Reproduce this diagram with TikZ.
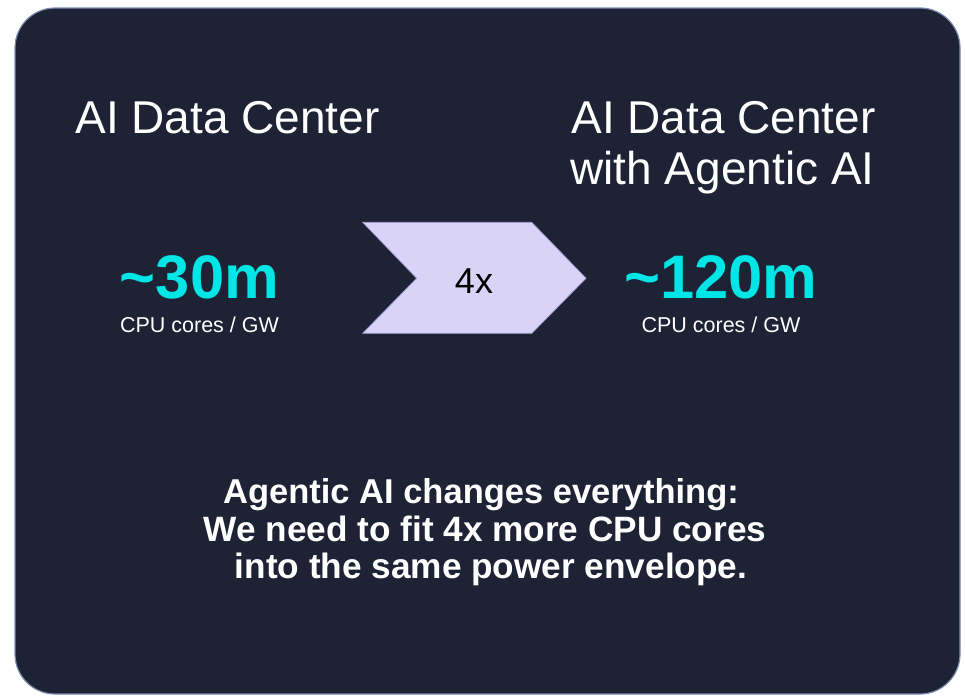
\documentclass[tikz,border=0pt]{standalone}
\usepackage{fontspec}
\setmainfont{Liberation Sans}
\definecolor{panelbg}{HTML}{1E2235}
\definecolor{paneledge}{HTML}{7D8CAD}
\definecolor{chevfill}{HTML}{DAD3F8}
\definecolor{chevedge}{HTML}{A49CD0}
\definecolor{figcyan}{HTML}{00E5E5}
\tikzset{
  title/.style={inner sep=0pt, anchor=base, text=white, font=\fontsize{46}{51}\selectfont},
  bignum/.style={inner sep=0pt, anchor=base, text=figcyan, font=\fontsize{61.5}{66}\selectfont\bfseries},
  unit/.style={inner sep=0pt, anchor=base, text=white, font=\fontsize{21.5}{24}\selectfont},
  msg/.style={inner sep=0pt, anchor=base, text=white, font=\fontsize{34.5}{38}\selectfont\bfseries},
  factor/.style={inner sep=0pt, anchor=base, text=black, font=\fontsize{36}{40}\selectfont}
}
\begin{document}
\begin{tikzpicture}[x=1pt,y=-1pt]
  \useasboundingbox (0,0) rectangle (965,696);
  % panel
  \draw[fill=panelbg, draw=paneledge, line width=1.2pt, rounded corners=40pt]
    (15,8) rectangle (960,694);
  % chevron
  \draw[fill=chevfill, draw=chevedge, line width=0.8pt]
    (362.7,222.3) -- (531.7,222.3) -- (586,278.3) -- (531.7,333.3)
    -- (362.7,333.3) -- (416.7,278.3) -- cycle;
  \node[factor] (fx) at (474,293) {4x};
  % titles
  \node[title] (lt) at (227.5,133) {AI Data Center};
  \node[title] (rt1) at (723.5,133) {AI Data Center};
  \node[title] (rt2) at (722.5,184) {with Agentic AI};
  % figures
  \node[bignum] (ln) at (199.5,298) {\textasciitilde30m};
  \node[unit] (lu) at (199.5,332) {CPU cores / GW};
  \node[bignum] (rn) at (721,298) {\textasciitilde120m};
  \node[unit] (ru) at (721,332) {CPU cores / GW};
  % message
  \node[msg] (m1) at (481,503) {Agentic AI changes everything:};
  \node[msg, font=\fontsize{35.2}{38}\selectfont\bfseries] (m2) at (485,541) {We need to fit 4x more CPU cores};
  \node[msg, font=\fontsize{35.2}{38}\selectfont\bfseries] (m3) at (491,578) {into the same power envelope.};
\end{tikzpicture}
\end{document}
